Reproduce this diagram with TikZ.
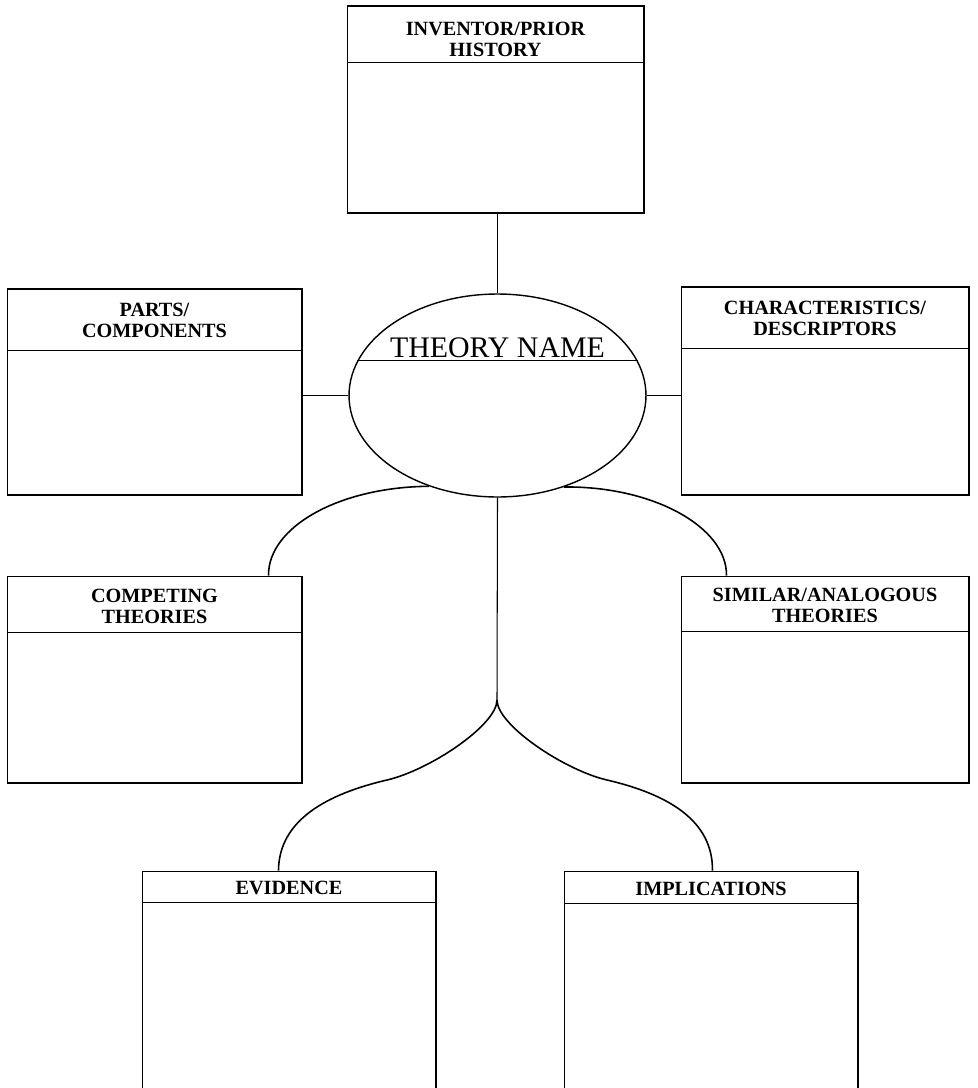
\documentclass[tikz,border=0pt]{standalone}
\usepackage{fontspec}
\setmainfont{Liberation Serif}
\usetikzlibrary{shapes.geometric}
\begin{document}
\begin{tikzpicture}[x=0.02cm, y=-0.02cm,
  card/.style={draw=black, line width=0.6pt, inner sep=0pt, minimum width=5.9cm, minimum height=4.14cm},
  title/.style={font=\bfseries\fontsize{11.5}{12.2}\selectfont, align=center, inner sep=0pt},
  rule/.style={line width=0.6pt},
  link/.style={line width=0.6pt},
  arch/.style={line width=0.9pt}
]
  \useasboundingbox (0,0) rectangle (977,1088);
  \clip (0,0) rectangle (977,1088);

  % centre
  \node[ellipse, draw, line width=0.8pt, minimum width=5.94cm, minimum height=4.06cm, inner sep=0pt] (theory) at (497.5,395.5) {};
  \node[font=\fontsize{17}{18}\selectfont, anchor=base, inner sep=0pt] (theoryname) at (497.5,357) {THEORY NAME};
  \draw[rule] (theory.166) -- (theory.14);

  % boxes
  \node[card, minimum width=5.94cm] (inventor) at (495.5,109.5) {};
  \draw[rule] ([yshift=-1.14cm]inventor.north west) -- ([yshift=-1.14cm]inventor.north east);
  \node[title] (inventortitle) at ([yshift=-0.68cm]inventor.north) {INVENTOR/PRIOR\\HISTORY};

  \node[card, minimum height=4.12cm] (parts) at (154.5,392) {};
  \draw[rule] ([yshift=-1.24cm]parts.north west) -- ([yshift=-1.24cm]parts.north east);
  \node[title] (partstitle) at ([yshift=-0.64cm]parts.north) {PARTS/\\COMPONENTS};

  \node[card, minimum width=5.76cm, minimum height=4.16cm] (traits) at (825,391) {};
  \draw[rule] ([yshift=-1.24cm]traits.north west) -- ([yshift=-1.24cm]traits.north east);
  \node[title] (traitstitle) at ([yshift=-0.64cm]traits.north) {CHARACTERISTICS/\\DESCRIPTORS};

  \node[card] (competing) at (154.5,679.5) {};
  \draw[rule] ([yshift=-1.14cm]competing.north west) -- ([yshift=-1.14cm]competing.north east);
  \node[title] (competingtitle) at ([yshift=-0.62cm]competing.north) {COMPETING\\THEORIES};

  \node[card, minimum width=5.76cm] (similar) at (825,679.5) {};
  \draw[rule] ([yshift=-1.12cm]similar.north west) -- ([yshift=-1.12cm]similar.north east);
  \node[title] (similartitle) at ([yshift=-0.6cm]similar.north) {SIMILAR/ANALOGOUS\\THEORIES};

  \node[card, minimum width=5.88cm, minimum height=4.48cm] (evidence) at (289,983) {};
  \draw[rule] ([yshift=-0.64cm]evidence.north west) -- ([yshift=-0.64cm]evidence.north east);
  \node[title] (evidencetitle) at ([yshift=-0.35cm]evidence.north) {EVIDENCE};

  \node[card, minimum width=5.88cm, minimum height=4.48cm] (implications) at (711,983) {};
  \draw[rule] ([yshift=-0.66cm]implications.north west) -- ([yshift=-0.66cm]implications.north east);
  \node[title] (implicationstitle) at ([yshift=-0.36cm]implications.north) {IMPLICATIONS};

  % connectors
  \draw[link] (theory.north) -- (theory.north |- inventor.south);
  \draw[link] (theory.west) -- (theory.west -| parts.east);
  \draw[link] (theory.east) -- (theory.east -| traits.west);

  \draw[arch] ([xshift=-0.68cm]competing.north east) .. controls (268,527) and (339,487) .. (theory.233);
  \draw[arch] ([xshift=0.92cm]similar.north west) .. controls (727,527) and (653,486) .. (theory.306);

  \coordinate (fork) at (497,700);
  \draw[link] (theory.south) -- (fork);
  \draw[arch] (fork) .. controls (497,725) and (430,770) .. (387,780)
    .. controls (327,794) and (279,820) .. ([xshift=2.74cm]evidence.north west);
  \draw[arch] (fork) .. controls (497,725) and (564,770) .. (607,780)
    .. controls (667,794) and (713,820) .. ([xshift=2.98cm]implications.north west);
\end{tikzpicture}
\end{document}
